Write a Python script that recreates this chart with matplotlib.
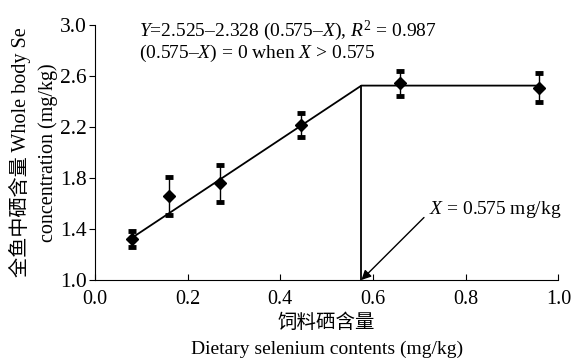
import matplotlib
matplotlib.use('Agg')
import matplotlib.pyplot as plt

plt.rcParams['font.family'] = ['Liberation Serif', 'Noto Sans CJK SC']
plt.rcParams['mathtext.fontset'] = 'custom'
plt.rcParams['mathtext.rm'] = 'Liberation Serif'
plt.rcParams['mathtext.it'] = 'Liberation Serif:italic'

# data
se_diet = [0.08, 0.161, 0.271, 0.445, 0.658, 0.957]
se_body = [1.32, 1.66, 1.76, 2.215, 2.543, 2.51]
se_err = [0.065, 0.15, 0.145, 0.095, 0.10, 0.115]

# broken-line fit
line_x = [0.08, 0.575, 0.96]
line_y = [1.33, 2.525, 2.525]
break_x = 0.575

fig = plt.figure(figsize=(5.71, 3.58), dpi=100)
ax = fig.add_axes([0.166, 0.218, 0.812, 0.712])

ax.plot(line_x, line_y, color='black', lw=1.3)
ax.plot([break_x, break_x], [1.0, line_y[1]], color='black', lw=1.3)
ax.errorbar(se_diet, se_body, yerr=se_err, fmt='D', color='black',
            ms=6, elinewidth=1, capsize=3, capthick=3.5)

ax.set_xlim(0, 1.0)
ax.set_ylim(1.0, 3.0)
ax.set_xticks([0, 0.2, 0.4, 0.6, 0.8, 1.0])
ax.set_yticks([1.0, 1.4, 1.8, 2.2, 2.6, 3.0])
ax.xaxis.set_major_formatter(plt.FormatStrFormatter('%.1f'))
ax.yaxis.set_major_formatter(plt.FormatStrFormatter('%.1f'))
ax.tick_params(axis='x', direction='in', labelsize=14.5, length=4, pad=7)
ax.tick_params(axis='y', direction='out', labelsize=15.5, length=4, pad=2)
for s in ['top', 'right']:
    ax.spines[s].set_visible(False)

xc = 0.166 + 0.812 / 2
fig.text(xc, 0.098, '饲料硒含量', fontsize=14, ha='center', va='center')
fig.text(xc, 0.024, 'Dietary selenium contents (mg/kg)', fontsize=14,
         ha='center', va='center')
yc = 0.218 + 0.712 / 2
fig.text(0.035, yc, '全鱼中硒含量 Whole body Se', fontsize=14.5, rotation=90,
         ha='center', va='center')
fig.text(0.084, yc, 'concentration (mg/kg)', fontsize=14.5, rotation=90,
         ha='center', va='center')

ax.text(0.095, 3.05, '$Y$=2.525–2.328 (0.575–$X$), $R^{2}$ = 0.987\n(0.575–$X$) = 0 when $X$ > 0.575',
        fontsize=14, va='top', ha='left', linespacing=1.0)

ax.text(0.72, 1.555, '$X$ = 0.575 mg/kg', fontsize=14, va='center', ha='left')
ax.annotate('', xy=(break_x, 1.0), xytext=(0.71, 1.49),
            arrowprops=dict(arrowstyle='-|>', color='black', lw=1,
                            shrinkA=0, shrinkB=0, mutation_scale=14))

fig.savefig('out.png', dpi=100)
